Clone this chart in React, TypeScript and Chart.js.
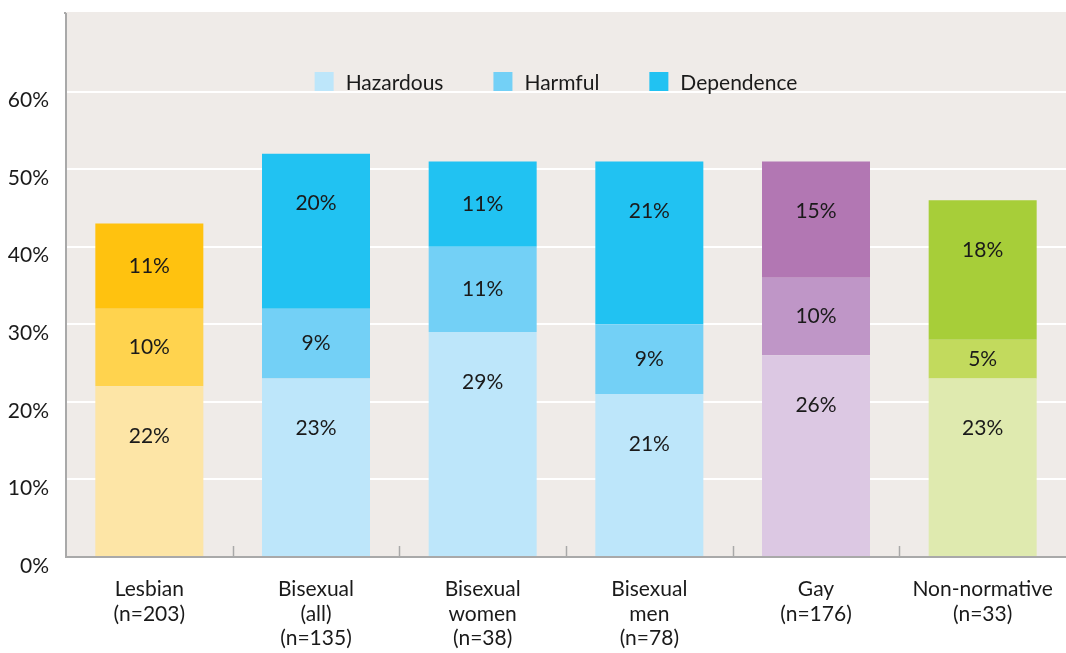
import React, { useEffect, useRef } from "react";
import { Chart, registerables } from "chart.js";

Chart.register(...registerables);

const categories: string[][] = [
  ["Lesbian", "(n=203)"],
  ["Bisexual", "(all)", "(n=135)"],
  ["Bisexual", "women", "(n=38)"],
  ["Bisexual", "men", "(n=78)"],
  ["Gay", "(n=176)"],
  ["Non-normative", "(n=33)"],
];
const seriesNames = ["Hazardous", "Harmful", "Dependence"];
const hazardous = [22, 23, 29, 21, 26, 23];
const harmful = [10, 9, 11, 9, 10, 5];
const dependence = [11, 20, 11, 21, 15, 18];
const yMax = 70;
const yStep = 10;

const hazardousColors = ["#FDE5A6", "#BDE6FA", "#BDE6FA", "#BDE6FA", "#DCC8E3", "#DFEAAF"];
const harmfulColors = ["#FFD34E", "#73D0F6", "#73D0F6", "#73D0F6", "#BF96C7", "#C2DA5D"];
const dependenceColors = ["#FFC20F", "#21C2F2", "#21C2F2", "#21C2F2", "#B277B3", "#A7CE39"];
const legendColors = ["#BDE6FA", "#73D0F6", "#21C2F2"];

const FONT = "Lato, 'Open Sans', sans-serif";
const FS = 21;
const TEXT = "#1a1a1a";
const AXIS = "#a9a9a9";
const PLOT_BG = "#EFEBE8";
const BG_EXTRA_TOP = 2;

const plotBg = {
  id: "plotBg",
  beforeDraw(chart: any) {
    const { ctx, chartArea } = chart;
    ctx.save();
    ctx.fillStyle = PLOT_BG;
    ctx.fillRect(
      chartArea.left,
      chartArea.top - BG_EXTRA_TOP,
      chartArea.right - chartArea.left,
      chartArea.bottom - chartArea.top + BG_EXTRA_TOP
    );
    ctx.restore();
  },
};

const extras = {
  id: "extras",
  afterDatasetsDraw(chart: any) {
    const { ctx, chartArea } = chart;
    const xs = chart.scales.x;
    ctx.save();
    ctx.strokeStyle = AXIS;
    ctx.lineWidth = 2;
    ctx.beginPath();
    ctx.moveTo(chartArea.left - 1, chartArea.top - BG_EXTRA_TOP);
    ctx.lineTo(chartArea.left - 1, chartArea.top);
    ctx.stroke();
    ctx.lineWidth = 1.5;
    for (let i = 1; i < categories.length; i++) {
      const bx = (xs.getPixelForValue(i - 1) + xs.getPixelForValue(i)) / 2;
      ctx.beginPath();
      ctx.moveTo(Math.round(bx) + 0.5, chartArea.bottom);
      ctx.lineTo(Math.round(bx) + 0.5, chartArea.bottom - 11);
      ctx.stroke();
    }
    ctx.fillStyle = TEXT;
    ctx.font = `${FS}px ${FONT}`;
    ctx.textAlign = "center";
    ctx.textBaseline = "middle";
    chart.data.datasets.forEach((ds: any, di: number) => {
      const meta = chart.getDatasetMeta(di);
      meta.data.forEach((el: any, i: number) => {
        const v = ds.data[i];
        const top = Math.min(el.y, el.base);
        const h = Math.abs(el.base - el.y);
        const y = top + Math.min(50, h / 2);
        ctx.fillText(`${v}%`, el.x, y);
      });
    });
    ctx.font = `${FS}px ${FONT}`;
    ctx.textAlign = "left";
    const box = 19;
    const textGap = 12;
    const itemGap = 50;
    const widths = seriesNames.map((n) => ctx.measureText(n).width);
    const total = widths.reduce((a, w) => a + box + textGap + w, 0) + itemGap * (seriesNames.length - 1);
    let x = (chartArea.left + chartArea.right) / 2 - 10 - total / 2;
    const cy = 83;
    seriesNames.forEach((n, i) => {
      ctx.fillStyle = legendColors[i];
      ctx.fillRect(x, cy - 11, box, box);
      ctx.fillStyle = TEXT;
      ctx.fillText(n, x + box + textGap, cy);
      x += box + textGap + widths[i] + itemGap;
    });
    ctx.restore();
  },
};

export default function App() {
  const ref = useRef<HTMLCanvasElement | null>(null);
  useEffect(() => {
    if (!ref.current) return;
    const chart = new Chart(ref.current, {
      type: "bar",
      data: {
        labels: categories as any,
        datasets: [
          { label: seriesNames[0], data: hazardous, backgroundColor: hazardousColors },
          { label: seriesNames[1], data: harmful, backgroundColor: harmfulColors },
          { label: seriesNames[2], data: dependence, backgroundColor: dependenceColors },
        ],
      },
      options: {
        responsive: false,
        animation: false,
        layout: { padding: { top: 14, left: 0, right: 0, bottom: 0 } },
        datasets: { bar: { categoryPercentage: 1, barPercentage: 0.648 } } as any,
        plugins: { legend: { display: false }, tooltip: { enabled: false } },
        scales: {
          x: {
            stacked: true,
            grid: { display: false, drawTicks: false },
            border: { display: true, color: AXIS, width: 2 },
            ticks: {
              color: TEXT,
              font: { family: FONT, size: FS, lineHeight: 1.17 } as any,
              padding: 20,
              maxRotation: 0,
              autoSkip: false,
            },
            afterFit(scale: any) {
              scale.height = 96;
              scale.paddingLeft = 0;
              scale.paddingRight = 0;
            },
          },
          y: {
            stacked: true,
            min: 0,
            max: yMax,
            grid: {
              drawTicks: false,
              lineWidth: 2,
              color: (c: any) => (c.tick && (c.tick.value === 0 || c.tick.value === yMax) ? "rgba(0,0,0,0)" : "#ffffff"),
            },
            border: { display: true, color: AXIS, width: 2 },
            ticks: {
              stepSize: yStep,
              color: TEXT,
              font: { family: FONT, size: FS },
              padding: 17,
              labelOffset: 9,
              callback: (v: any) => (v >= yMax ? "" : `${v}%`),
            },
            afterFit(scale: any) {
              scale.width = 66;
              scale.paddingTop = 0;
              scale.paddingBottom = 0;
            },
          },
        },
      },
      plugins: [plotBg, extras],
    });
    return () => chart.destroy();
  }, []);
  return (
    <div style={{ position: "absolute", left: 0, top: 0, width: 1066, height: 653, background: "#fff" }}>
      <canvas ref={ref} width={1066} height={653} style={{ display: "block" }} />
    </div>
  );
}
